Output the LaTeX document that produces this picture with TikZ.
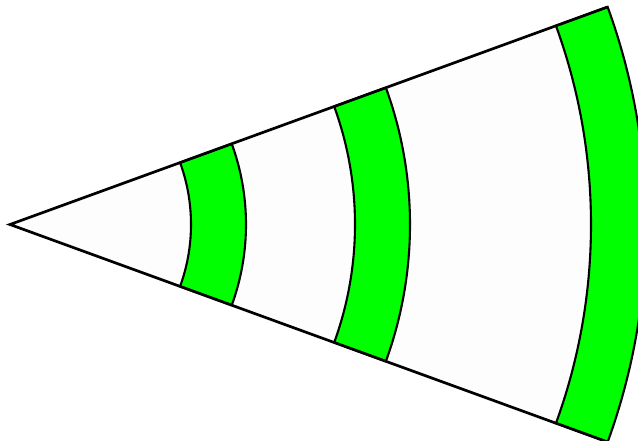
\documentclass[tikz,border=0pt]{standalone}
\usetikzlibrary{positioning}

\definecolor{bandgreen}{RGB}{0,255,0}
\definecolor{paper}{RGB}{253,253,253}

\begin{document}
\begin{tikzpicture}[x=1pt, y=1pt, line width=2.7pt]

\clip (-10,-216.5) rectangle (628,224.5);
\coordinate (apex) at (0,0);
\fill[paper] (apex) -- (20:636) arc (20:-20:636) -- cycle;
\foreach \r/\R in {181/236, 345/400, 581/636}
    \filldraw[fill=bandgreen, draw=black, line width=2.1pt] (20:\r) arc (20:-20:\r) -- (-20:\R) arc (-20:20:\R) -- cycle;
\draw (20:636) -- (apex) -- (-20:636);
\end{tikzpicture}
\end{document}
